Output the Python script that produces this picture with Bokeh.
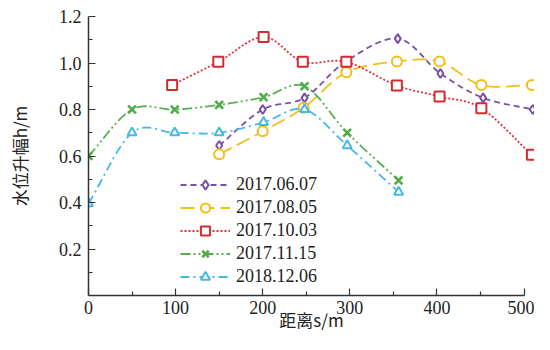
import numpy as np
from bokeh.plotting import figure
from bokeh.models import FixedTicker, Legend, LegendItem, Range1d, PrintfTickFormatter
from bokeh.embed import file_html
from bokeh.resources import INLINE

# ---- data ----
names = ["2017.06.07", "2017.08.05", "2017.10.03", "2017.11.15", "2018.12.06"]
x_0607 = [150, 200, 248, 295, 355, 404, 453, 510]
y_0607 = [0.645, 0.80, 0.85, 1.005, 1.105, 0.955, 0.85, 0.80]
x_0805 = [150, 200, 247, 296, 354, 403, 451, 509]
y_0805 = [0.607, 0.706, 0.808, 0.96, 1.006, 1.006, 0.905, 0.905]
x_1003 = [96, 149, 201, 246, 296, 354, 403, 451, 509]
y_1003 = [0.905, 1.005, 1.112, 1.005, 1.005, 0.903, 0.856, 0.805, 0.605]
x_1115 = [0, 50, 99, 150, 201, 248, 297, 356]
y_1115 = [0.60, 0.80, 0.80, 0.82, 0.853, 0.90, 0.70, 0.495]
x_1206 = [0, 50, 99, 150, 201, 248, 297, 356]
y_1206 = [0.395, 0.70, 0.70, 0.70, 0.745, 0.80, 0.645, 0.445]

x_ticks = [0, 100, 200, 300, 400, 500]
x_minor = [50, 150, 250, 350, 450]
y_ticks = [0.2, 0.4, 0.6, 0.8, 1.0, 1.2]
y_minor = [0.1, 0.3, 0.5, 0.7, 0.9, 1.1]
x_title = "距离s/m"
y_title = "水位升幅h/m"

colors = ["#7a4fa8", "#f5bd1a", "#e0303a", "#55b04f", "#45b8e6"]
marker_colors = ["#7a4fa8", "#f5bd1a", "#d42a30", "#4fae49", "#45b8e6"]
dashes = ["6 4", "14 6", "2 2", "10 3 2 3 2 3", "9 4 2 4"]
markers = ["diamond", "circle", "square", "x", "triangle"]
msizes = [9, 10, 10, 11, 9]
mwidths = [2, 2, 2, 2.6, 2]


def catmull_rom(xs, ys, n=24):
    xs = np.asarray(xs, float)
    ys = np.asarray(ys, float)
    px = np.concatenate([[2 * xs[0] - xs[1]], xs, [2 * xs[-1] - xs[-2]]])
    py = np.concatenate([[2 * ys[0] - ys[1]], ys, [2 * ys[-1] - ys[-2]]])
    ox, oy = [], []
    t = np.linspace(0, 1, n, endpoint=False)
    for i in range(1, len(px) - 2):
        for P, out in ((px, ox), (py, oy)):
            p0, p1, p2, p3 = P[i - 1], P[i], P[i + 1], P[i + 2]
            v = 0.5 * ((2 * p1) + (-p0 + p2) * t + (2 * p0 - 5 * p1 + 4 * p2 - p3) * t ** 2
                       + (-p0 + 3 * p1 - 3 * p2 + p3) * t ** 3)
            out.extend(v.tolist())
    ox.append(xs[-1]); oy.append(ys[-1])
    return ox, oy


series = [(x_0607, y_0607), (x_0805, y_0805), (x_1003, y_1003), (x_1115, y_1115), (x_1206, y_1206)]

p = figure(width=534, height=334, output_backend="svg", toolbar_location=None,
           x_range=Range1d(0, 512), y_range=Range1d(0, 1.2),
           min_border_left=88, min_border_right=0, min_border_top=16, min_border_bottom=38)
p.outline_line_color = None
p.grid.visible = False
p.background_fill_color = "white"

items = []
for i, (xs, ys) in enumerate(series):
    sx, sy = catmull_rom(xs, ys)
    r1 = p.line(sx, sy, line_color=colors[i], line_width=1.8, line_dash=dashes[i])
    r2 = p.scatter(xs, ys, marker=markers[i], size=msizes[i], line_color=marker_colors[i],
                   fill_color="white", line_width=mwidths[i])
    items.append(LegendItem(label=names[i], renderers=[r1, r2]))

legend = Legend(items=items, location=(92, 7), padding=0, spacing=0, margin=0,
                glyph_width=50, glyph_height=23, label_height=23, label_standoff=6,
                label_text_font="Liberation Serif", label_text_font_size="18px",
                label_text_color="#222222", background_fill_alpha=0, border_line_color=None)
p.add_layout(legend)

for ax in (p.xaxis[0], p.yaxis[0]):
    ax.axis_line_color = "#333333"
    ax.axis_line_width = 1.5
    ax.major_tick_line_color = "#333333"
    ax.minor_tick_line_color = "#333333"
    ax.major_tick_line_width = 1.2
    ax.minor_tick_line_width = 1.2
    ax.major_tick_in = 7
    ax.major_tick_out = 0
    ax.minor_tick_in = 4
    ax.minor_tick_out = 0
    ax.major_label_text_font = "Liberation Serif"
    ax.major_label_text_font_size = "18px"
    ax.major_label_text_color = "#222222"
    ax.axis_label_text_font = "Noto Sans CJK SC"
    ax.axis_label_text_font_size = "17px"
    ax.axis_label_text_font_style = "normal"
    ax.axis_label_text_color = "#222222"

p.xaxis[0].ticker = FixedTicker(ticks=x_ticks, minor_ticks=x_minor)
p.yaxis[0].ticker = FixedTicker(ticks=y_ticks, minor_ticks=y_minor)
p.yaxis[0].formatter = PrintfTickFormatter(format="%.1f")
p.xaxis[0].bounds = (0, 500)
p.yaxis[0].bounds = (0, 1.2)
p.xaxis[0].major_label_standoff = 5
p.yaxis[0].major_label_standoff = 7
p.xaxis[0].axis_label = x_title
p.xaxis[0].axis_label_standoff = -10
p.yaxis[0].axis_label = y_title
p.yaxis[0].axis_label_standoff = 24

open("out.html", "w").write(file_html(p, INLINE))
